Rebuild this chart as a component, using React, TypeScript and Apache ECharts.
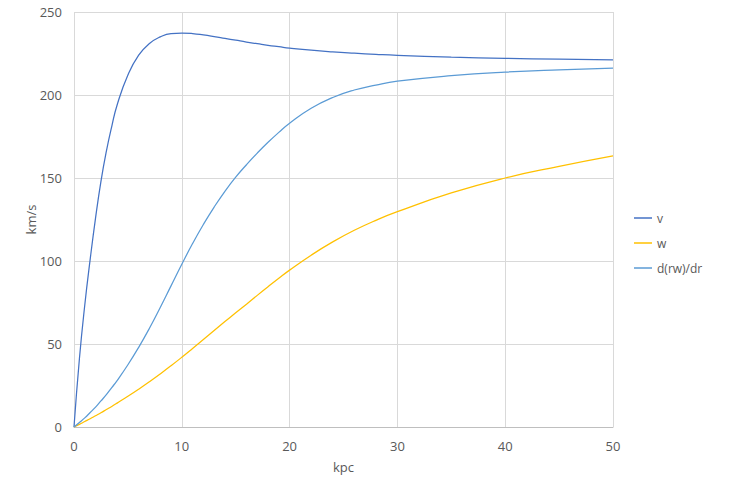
import React, { useEffect, useRef } from "react";
import * as echarts from "echarts";

const radius = [0, 0.5, 1, 1.5, 2, 2.5, 3, 3.5, 4, 5, 6, 7, 8, 9, 10, 11, 12, 13, 14, 15, 16, 17, 18, 19, 20, 22, 24, 26, 28, 30, 35, 40, 45, 50];
const vValues = [0, 41, 73.5, 101, 126, 148, 166, 181, 194, 212, 224, 231, 235, 237, 237.3, 237, 236.2, 235.2, 234.1, 233, 231.9, 230.9, 229.9, 229.1, 228.3, 227, 226, 225.2, 224.5, 223.9, 222.8, 222.1, 221.6, 221.2];
const wValues = [0, 1.6, 3.3, 5, 6.8, 8.6, 10.5, 12.4, 14.4, 18.5, 22.8, 27.3, 32, 36.9, 42, 47.3, 52.7, 58.1, 63.5, 68.8, 74, 79.3, 84.5, 89.6, 94.5, 103.5, 111.5, 118.5, 124.5, 129.7, 141, 150, 157, 163.3];
const drwValues = [0, 2.7, 5.5, 8.7, 12, 15.7, 19.5, 23.7, 28, 37.5, 48, 59.5, 72, 85, 98, 110.5, 122, 132.5, 142, 150.5, 158, 165, 171.5, 177.5, 183, 192, 198.5, 203, 206, 208.3, 211.6, 213.8, 215.2, 216.2];
const seriesNames = ["v", "w", "d(rw)/dr"];
const seriesColors = ["#4472C4", "#FFC000", "#5B9BD5"];

const pairs = (ys: number[]) => radius.map((x, i) => [x, ys[i]]);

export default function App() {
  const ref = useRef<HTMLDivElement>(null);
  useEffect(() => {
    if (!ref.current) return;
    const chart = echarts.init(ref.current, null, { renderer: "svg" });
    const font = "'Open Sans', 'Noto Sans', sans-serif";
    const allData = [vValues, wValues, drwValues];
    chart.setOption({
      animation: false,
      textStyle: { fontFamily: font },
      grid: { left: 74, right: 118, top: 12, bottom: 59 },
      legend: {
        orient: "vertical",
        left: 629,
        top: 207,
        icon: "rect",
        itemWidth: 18,
        itemHeight: 1.5,
        itemGap: 13,
        textStyle: { color: "#595959", fontSize: 12, fontFamily: font },
        data: seriesNames,
      },
      xAxis: {
        type: "value",
        min: 0,
        max: 50,
        interval: 10,
        name: "kpc",
        nameLocation: "middle",
        nameGap: 33,
        nameTextStyle: { color: "#595959", fontSize: 13 },
        axisLine: { show: true, lineStyle: { color: "#BFBFBF", width: 1 } },
        axisTick: { show: false },
        axisLabel: { color: "#595959", fontSize: 13, margin: 12 },
        splitLine: { show: true, lineStyle: { color: "#D9D9D9", width: 1 } },
      },
      yAxis: {
        type: "value",
        min: 0,
        max: 250,
        interval: 50,
        name: "km/s",
        nameLocation: "middle",
        nameGap: 37,
        nameRotate: 90,
        nameMoveOverlap: false,
        nameTextStyle: { color: "#595959", fontSize: 13 },
        axisLine: { show: false },
        axisTick: { show: false },
        axisLabel: { color: "#595959", fontSize: 13, margin: 12 },
        splitLine: { show: true, lineStyle: { color: "#D9D9D9", width: 1 } },
      },
      series: seriesNames.map((name, i) => ({
        name,
        type: "line",
        data: pairs(allData[i]),
        smooth: 0.5,
        symbol: "none",
        lineStyle: { color: seriesColors[i], width: 1.25 },
        itemStyle: { color: seriesColors[i] },
      })),
    });
    return () => chart.dispose();
  }, []);
  return <div ref={ref} style={{ width: 731, height: 486, position: "absolute", left: 0, top: 0 }} />;
}
